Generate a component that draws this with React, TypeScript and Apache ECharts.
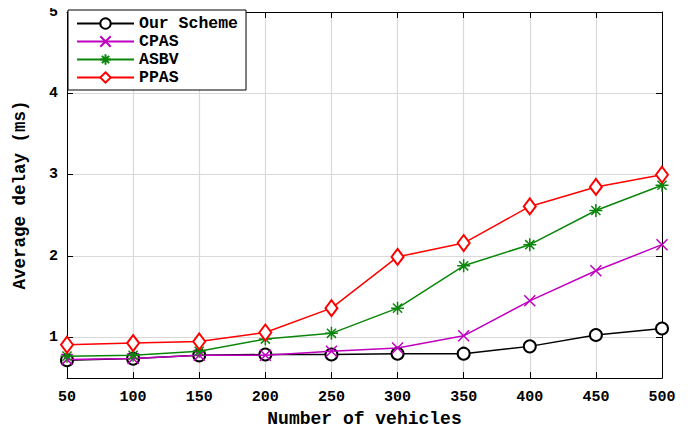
import React, { useEffect, useRef } from "react";
import * as echarts from "echarts";

// Number of vehicles on the x axis
const vehicles = [50, 100, 150, 200, 250, 300, 350, 400, 450, 500];

// Average delay (ms) for each scheme
const ourScheme = [0.72, 0.74, 0.78, 0.79, 0.79, 0.8, 0.8, 0.89, 1.03, 1.11];
const cpas = [0.73, 0.74, 0.78, 0.78, 0.83, 0.87, 1.02, 1.45, 1.82, 2.14];
const asbv = [0.77, 0.78, 0.83, 0.98, 1.05, 1.36, 1.88, 2.14, 2.56, 2.87];
const ppas = [0.91, 0.93, 0.95, 1.06, 1.36, 1.99, 2.16, 2.61, 2.85, 3.0];

const seriesNames = ["Our Scheme", "CPAS", "ASBV", "PPAS"];
const seriesColors = ["#000000", "#c000c0", "#0a870a", "#ff0000"];

const FONT = "'Liberation Mono', 'DejaVu Sans Mono', monospace";

const crossSymbol = "path://M0,0L10,10M10,0L0,10";
const starSymbol = "path://M5,0L5,10M0,5L10,5M1.5,1.5L8.5,8.5M8.5,1.5L1.5,8.5";

export default function App() {
  const ref = useRef<HTMLDivElement>(null);

  useEffect(() => {
    if (!ref.current) return;
    const chart = echarts.init(ref.current, undefined, { renderer: "svg" });

    const values = [ourScheme, cpas, asbv, ppas];
    const symbols = ["emptyCircle", crossSymbol, starSymbol, "emptyDiamond"];
    const sizes: (number | number[])[] = [12, 11, 13, [12, 16]];

    const series = seriesNames.map((name, i) => ({
      name,
      type: "line",
      data: vehicles.map((v, j) => [v, values[i][j]]),
      symbol: symbols[i],
      symbolSize: sizes[i],
      showAllSymbol: true,
      color: seriesColors[i],
      lineStyle: { color: seriesColors[i], width: 1.5 },
      itemStyle: {
        color: seriesColors[i],
        borderColor: seriesColors[i],
        borderWidth: 1.5,
      },
      emphasis: { disabled: true },
      z: 2 + i,
    }));

    const tickLabel = {
      fontFamily: FONT,
      fontWeight: "bold" as const,
      fontSize: 15,
      color: "#000",
    };

    chart.setOption({
      animation: false,
      backgroundColor: "#fff",
      grid: { left: 67, right: 30, top: 12, bottom: 53 },
      legend: {
        orient: "vertical",
        left: 68,
        top: 10,
        data: seriesNames,
        itemWidth: 57,
        itemHeight: 13,
        itemGap: 1,
        padding: [5, 8, 4, 8],
        borderColor: "#000",
        borderWidth: 1,
        backgroundColor: "#fff",
        textStyle: {
          fontFamily: FONT,
          fontWeight: "bold",
          fontSize: 16.5,
          color: "#000",
        },
      },
      xAxis: [
        {
          type: "value",
          min: 50,
          max: 500,
          interval: 50,
          name: "Number of vehicles",
          nameLocation: "middle",
          nameGap: 31,
          nameTextStyle: {
            fontFamily: FONT,
            fontWeight: "bold",
            fontSize: 18,
            color: "#000",
          },
          axisLine: { show: true, lineStyle: { color: "#000", width: 1 } },
          axisTick: { show: true, inside: true, length: 6, lineStyle: { color: "#000" } },
          axisLabel: { ...tickLabel, margin: 12 },
          splitLine: { show: true, lineStyle: { color: "#d9d9d9", width: 1.2 } },
        },
        {
          type: "value",
          position: "top",
          min: 50,
          max: 500,
          interval: 50,
          axisLine: { show: true, onZero: false, lineStyle: { color: "#000", width: 1 } },
          axisTick: { show: true, inside: true, length: 6, lineStyle: { color: "#000" } },
          axisLabel: { show: false },
          splitLine: { show: false },
        },
      ],
      yAxis: [
        {
          type: "value",
          min: 0.5,
          max: 5,
          name: "Average delay (ms)",
          nameLocation: "middle",
          nameGap: 38,
          nameTextStyle: {
            fontFamily: FONT,
            fontWeight: "bold",
            fontSize: 17.5,
            color: "#000",
          },
          axisLine: { show: true, onZero: false, lineStyle: { color: "#000", width: 1 } },
          axisTick: { show: true, inside: true, length: 6, lineStyle: { color: "#000" } },
          axisLabel: {
            ...tickLabel,
            margin: 9,
            formatter: (v: number) => (Number.isInteger(v) ? String(v) : ""),
          },
          splitLine: { show: true, lineStyle: { color: "#d9d9d9", width: 1.2 } },
        },
        {
          type: "value",
          position: "right",
          min: 0.5,
          max: 5,
          axisLine: { show: true, onZero: false, lineStyle: { color: "#000", width: 1 } },
          axisTick: { show: true, inside: true, length: 6, lineStyle: { color: "#000" } },
          axisLabel: { show: false },
          splitLine: { show: false },
        },
      ],
      series,
    });

    return () => chart.dispose();
  }, []);

  return <div ref={ref} style={{ width: 692, height: 433, margin: -8 }} />;
}
